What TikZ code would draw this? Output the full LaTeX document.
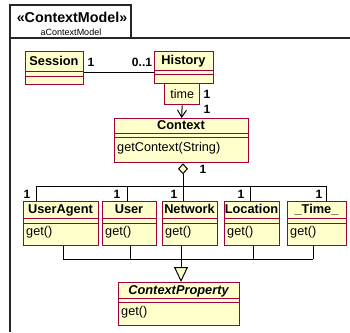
\documentclass[tikz,border=0pt]{standalone}
\usepackage{fontspec}
\setmainfont{Liberation Sans}
\usetikzlibrary{arrows.meta}
\definecolor{clsfill}{RGB}{255,255,204}
\definecolor{clsdraw}{RGB}{160,0,60}

% UML class box: id, x1, y1, x2, y2, first divider, second divider, name, operation
\newcommand\umlclass[9]{%
  \node[cls, minimum width={#4-#2}, minimum height={#5-#3}, anchor=north west] (#1) at (#2,#3) {};
  \draw[clsline] (#2,#6) -- (#4,#6) (#2,#7) -- (#4,#7);
  \node[nametext] (#1-name) at ({(#2+#4)/2},{(#3+#6)/2+1}) {#8};
  \node[optext, anchor=west] (#1-op) at ({#2+1.5},{(#7+#5)/2-1.5}) {#9};
}

\begin{document}
\begin{tikzpicture}[x=1pt,y=-1pt,
  cls/.style={draw=clsdraw, fill=clsfill, line width=1.3pt, inner sep=0pt},
  clsline/.style={draw=clsdraw, line width=1pt},
  nametext/.style={font=\fontsize{12.8}{14}\selectfont\bfseries, inner sep=0pt, text height=9pt, text depth=2.5pt},
  optext/.style={font=\fontsize{12.7}{14}\selectfont, inner sep=1.5pt, text height=9pt, text depth=2.5pt},
  mult/.style={font=\fontsize{12}{14}\selectfont\bfseries, inner sep=0pt},
  conn/.style={line width=1pt, black},
  frame/.style={line width=1.4pt, black!85}]
\useasboundingbox (0,0) rectangle (350,332);

% package frame with name tab
\draw[frame] (10,332) -- (10,38) -- (350,38);
\draw[frame] (10,38) -- (10,5) -- (131,5) -- (131,38);
\node[font=\fontsize{14.3}{16}\selectfont\bfseries, inner sep=0pt] (pkg) at (72,17) {«ContextModel»};
\node[font=\fontsize{9}{10}\selectfont, inner sep=0pt] (pkgname) at (71,32) {aContextModel};

% classes
\umlclass{session}{25}{51}{83}{84}{71}{76}{Session}{}
\umlclass{history}{154}{51}{213}{83}{70}{74}{History}{}
\node[cls, minimum width=35, minimum height=21, anchor=north west,
      font=\fontsize{12.5}{14}\selectfont] (qual) at (164,83) {time};
\umlclass{context}{114}{118}{248}{162}{133}{137}{Context}{getContext(String)}
\umlclass{ua}{23}{201}{98}{245}{218}{223}{UserAgent}{get()}
\umlclass{user}{102}{201}{156}{245}{218}{223}{User}{get()}
\umlclass{net}{162}{201}{217}{245}{218}{223}{Network}{get()}
\umlclass{loc}{224}{201}{279}{245}{218}{223}{Location}{get()}
\umlclass{time}{287}{201}{346}{245}{218}{223}{\_Time\_}{get()}
\umlclass{cp}{118}{282}{239}{325}{298}{302}{\itshape ContextProperty}{get()}

% association Session -- History
\coordinate (sh) at (0,72);
\draw[conn] (session.east |- sh) -- (history.west |- sh);
\node[mult] (m-s) at (91,62) {1};
\node[mult] (m-h) at (142,62) {0..1};

% qualified navigation History -> Context
\draw[conn, -{Straight Barb[length=7pt,width=9pt]}] (qual.south) -- (context.north);
\node[mult] (m-q1) at (207,94) {1};
\node[mult] (m-q2) at (207,109) {1};

% aggregation of the context properties
\coordinate (b1) at (36,186);
\coordinate (b2) at (127,186);
\coordinate (b3) at (183,186);
\coordinate (b4) at (250,186);
\coordinate (b5) at (326,186);
\draw[conn, -{Diamond[length=11pt,width=10pt,fill=clsfill]}] (b3) -- (context.south -| b3);
\draw[conn] (b1) -- (b5);
\draw[conn] (b1) -- (ua.north -| b1);
\draw[conn] (b2) -- (user.north -| b2);
\draw[conn] (b3) -- (net.north -| b3);
\draw[conn] (b4) -- (loc.north -| b4);
\draw[conn] (b5) -- (time.north -| b5);
\node[mult] (m-agg) at (203,169) {1};
\node[mult] (m-ua) at (27,194) {1};
\node[mult] (m-user) at (117,194) {1};
\node[mult] (m-net) at (174,194) {1};
\node[mult] (m-loc) at (241,194) {1};
\node[mult] (m-time) at (319,194) {1};

% generalization to ContextProperty
\coordinate (g1) at (63,259);
\coordinate (g2) at (130,259);
\coordinate (g3) at (181,259);
\coordinate (g4) at (253,259);
\coordinate (g5) at (313,259);
\draw[conn] (g1) -- (g5);
\draw[conn] (ua.south -| g1) -- (g1);
\draw[conn] (user.south -| g2) -- (g2);
\draw[conn] (net.south -| g3) -- (g3);
\draw[conn] (loc.south -| g4) -- (g4);
\draw[conn] (time.south -| g5) -- (g5);
\draw[conn, -{Triangle[length=15pt,width=14pt,fill=clsfill]}] (g3) -- (cp.north -| g3);
\end{tikzpicture}
\end{document}
